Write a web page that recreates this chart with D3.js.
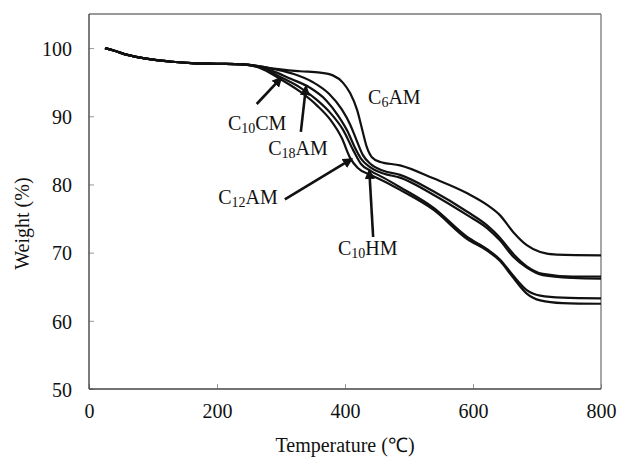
<!DOCTYPE html>
<html>
<head>
<meta charset="utf-8">
<script src="https://cdn.jsdelivr.net/npm/d3@7"></script>
<style>
  html, body { margin: 0; padding: 0; background: #fff; }
  svg { display: block; }
  text { font-family: "Liberation Serif", "Times New Roman", serif; fill: #111; }
</style>
</head>
<body>
<svg id="chart" width="618" height="459"></svg>
<script>
// Thermogravimetric curves: temperature (°C) vs remaining weight (%)
const xTicks = [0, 200, 400, 600, 800];
const yTicks = [50, 60, 70, 80, 90, 100];

const plateau = [[25, 100], [40, 99.6], [60, 99.0], [80, 98.6], [100, 98.3], [130, 98.0], [160, 97.8], [200, 97.7], [240, 97.6]];

const c6AM = plateau.concat([[262, 97.4], [280, 97.1], [330, 96.6], [361, 96.4], [381, 96.0], [397, 94.9], [408, 93.4], [419, 90.9], [427, 88.0], [434, 85.5], [442, 84.0], [455, 83.3], [486, 82.8], [538, 80.9], [591, 78.7], [622, 77.0], [642, 75.5], [663, 73.0], [684, 71.1], [705, 70.1], [731, 69.7], [800, 69.6]]);
const c10HM = plateau.concat([[262, 97.4], [290, 96.9], [320, 96.2], [350, 95.0], [375, 93.3], [395, 91.0], [408, 88.8], [418, 86.5], [428, 84.3], [440, 83.0], [460, 82.0], [486, 81.4], [538, 79.0], [591, 76.0], [622, 74.0], [642, 72.2], [663, 69.8], [684, 68.0], [709, 66.9], [756, 66.5], [800, 66.5]]);
const c18AM = plateau.concat([[262, 97.3], [285, 96.7], [315, 95.5], [345, 94.2], [370, 92.4], [390, 90.0], [404, 87.8], [415, 85.5], [425, 83.8], [438, 82.6], [460, 81.6], [486, 81.0], [538, 78.5], [591, 75.5], [622, 73.6], [642, 71.8], [663, 69.4], [684, 67.8], [709, 66.7], [756, 66.3], [800, 66.2]]);
const c10CM = plateau.concat([[267, 97.2], [298, 95.8], [330, 94.2], [356, 92.4], [377, 90.5], [397, 88.0], [413, 85.0], [425, 83.0], [440, 82.0], [460, 81.0], [486, 79.6], [538, 76.6], [591, 72.3], [622, 70.5], [642, 69.0], [663, 66.6], [684, 64.5], [705, 63.7], [740, 63.4], [800, 63.3]]);
const c12AM = plateau.concat([[267, 97.1], [298, 95.5], [330, 93.6], [356, 91.6], [377, 89.5], [395, 86.8], [408, 83.9], [420, 82.4], [440, 81.4], [460, 80.5], [486, 79.2], [538, 76.3], [591, 72.0], [622, 70.3], [642, 68.8], [663, 66.3], [684, 64.0], [705, 63.0], [740, 62.6], [800, 62.5]]);

const seriesList = [c6AM, c10HM, c18AM, c10CM, c12AM];

// Curve labels: name parts, label anchor (T,W), arrow from (T,W) to (T,W)
const labels = [
  { pre: "C", sub: "6", post: "AM", T: 436, W: 91.8, arrow: null },
  { pre: "C", sub: "10", post: "CM", T: 217, W: 88.0, arrow: [[262, 91.8], [300, 95.6]] },
  { pre: "C", sub: "18", post: "AM", T: 280, W: 84.3, arrow: [[331, 87.7], [339, 94.3]] },
  { pre: "C", sub: "12", post: "AM", T: 202, W: 77.1, arrow: [[306, 77.8], [410, 83.7]] },
  { pre: "C", sub: "10", post: "HM", T: 389, W: 69.6, arrow: [[444, 72.3], [438, 82.0]] }
];

const svg = d3.select("#chart");
const margin = { left: 89, top: 14, right: 17, bottom: 70 };
const W = 618, H = 459;
const x = d3.scaleLinear().domain([0, 800]).range([margin.left, W - margin.right]);
const y = d3.scaleLinear().domain([50, 105]).range([H - margin.bottom, margin.top]);

// axes with inward ticks
const xAxis = d3.axisBottom(x).tickValues(xTicks).tickSizeInner(-5).tickSizeOuter(0).tickPadding(15);
const yAxis = d3.axisLeft(y).tickValues(yTicks).tickSizeInner(-5).tickSizeOuter(0).tickPadding(17);

const gx = svg.append("g").attr("transform", `translate(0,${y(50)})`).call(xAxis);
const gy = svg.append("g").attr("transform", `translate(${x(0)},0)`).call(yAxis);
[gx, gy].forEach(g => {
  g.select(".domain").remove();
  g.selectAll(".tick line").attr("stroke", "#999").attr("stroke-width", 1);
  g.selectAll(".tick text").style("font-size", "20px").attr("fill", "#111");
});
gy.selectAll(".tick text").attr("dy", "0.36em");

// frame
svg.append("line").attr("x1", x(0)).attr("x2", x(800)).attr("y1", y(105)).attr("y2", y(105)).attr("stroke", "#777").attr("stroke-width", 1.3);
svg.append("line").attr("x1", x(800)).attr("x2", x(800)).attr("y1", y(105)).attr("y2", y(50)).attr("stroke", "#777").attr("stroke-width", 1.3);
svg.append("line").attr("x1", x(0)).attr("x2", x(800)).attr("y1", y(50)).attr("y2", y(50)).attr("stroke", "#444").attr("stroke-width", 1.4);
svg.append("line").attr("x1", x(0)).attr("x2", x(0)).attr("y1", y(105)).attr("y2", y(50)).attr("stroke", "#444").attr("stroke-width", 1.4);

// curves
const line = d3.line().x(d => x(d[0])).y(d => y(d[1])).curve(d3.curveMonotoneX);
svg.append("g").selectAll("path").data(seriesList).join("path")
  .attr("d", line)
  .attr("fill", "none")
  .attr("stroke", "#111")
  .attr("stroke-width", 2.2)
  .attr("stroke-linejoin", "round");

// arrowheads
svg.append("defs").append("marker")
  .attr("id", "head").attr("viewBox", "0 0 10 10").attr("refX", 8).attr("refY", 5)
  .attr("markerWidth", 4).attr("markerHeight", 4).attr("orient", "auto")
  .append("path").attr("d", "M0,0 L10,5 L0,10 Z").attr("fill", "#111");

const lab = svg.append("g");
labels.forEach(l => {
  if (l.arrow) {
    lab.append("line")
      .attr("x1", x(l.arrow[0][0])).attr("y1", y(l.arrow[0][1]))
      .attr("x2", x(l.arrow[1][0])).attr("y2", y(l.arrow[1][1]))
      .attr("stroke", "#111").attr("stroke-width", 2.6)
      .attr("marker-end", "url(#head)");
  }
  const t = lab.append("text").attr("x", x(l.T)).attr("y", y(l.W)).style("font-size", "20px");
  t.append("tspan").text(l.pre);
  t.append("tspan").attr("dy", 3).style("font-size", "14px").text(l.sub);
  t.append("tspan").attr("dy", -3).text(l.post);
});

// axis titles
svg.append("text").attr("x", (x(0) + x(800)) / 2).attr("y", 452)
  .attr("text-anchor", "middle").style("font-size", "20px").text("Temperature (℃)");
svg.append("text").attr("transform", `translate(29,${y(75) + 5}) rotate(-90)`)
  .attr("text-anchor", "middle").style("font-size", "20px").text("Weight (%)");
</script>
</body>
</html>
